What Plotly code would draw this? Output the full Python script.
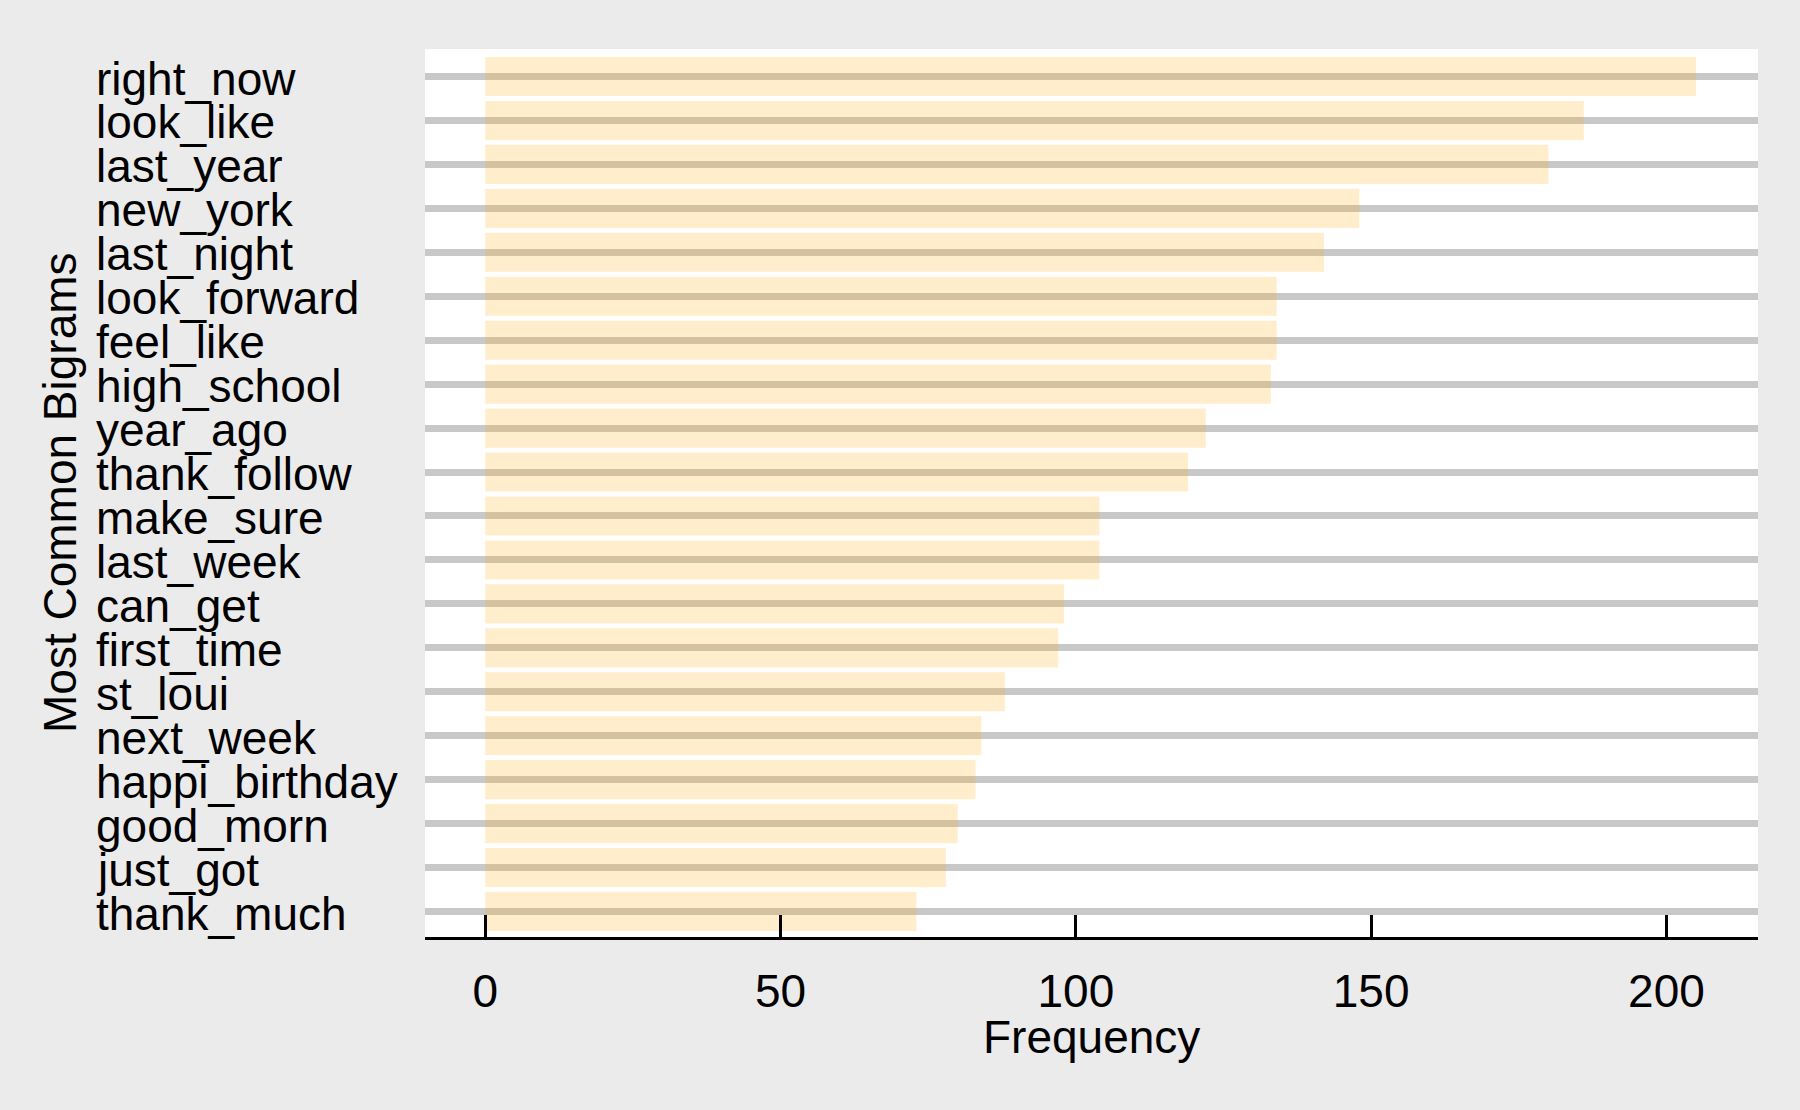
import plotly.graph_objects as go

categories = ["right_now", "look_like", "last_year", "new_york", "last_night",
              "look_forward", "feel_like", "high_school", "year_ago", "thank_follow",
              "make_sure", "last_week", "can_get", "first_time", "st_loui",
              "next_week", "happi_birthday", "good_morn", "just_got", "thank_much"]
frequency = [205, 186, 180, 148, 142, 134, 134, 133, 122, 119,
             104, 104, 98, 97, 88, 84, 83, 80, 78, 73]
x_ticks = [0, 50, 100, 150, 200]

FONT = "Liberation Sans, Arial, sans-serif"
FS = 46

fig = go.Figure()
fig.add_trace(go.Bar(
    x=frequency, y=categories, orientation="h",
    marker=dict(color="rgba(255,165,0,0.2)", line=dict(width=0)),
    showlegend=False,
))

for c in categories:
    fig.add_annotation(x=-0.2485, xref="paper", y=c, yref="y", text=c,
                       showarrow=False, xanchor="left", yanchor="middle", yshift=-2,
                       font=dict(family=FONT, size=FS, color="black"))

fig.add_annotation(x=-0.2738, xref="paper", y=0.5, yref="paper",
                   text="Most Common Bigrams", textangle=-90, showarrow=False,
                   xanchor="center", yanchor="middle",
                   font=dict(family=FONT, size=FS, color="black"))

fig.add_annotation(x=0.5, xref="paper", y=-0.1126, yref="paper",
                   text="Frequency", showarrow=False,
                   xanchor="center", yanchor="middle",
                   font=dict(family=FONT, size=FS, color="black"))

fig.update_layout(
    width=1800, height=1110,
    margin=dict(l=425, r=42, t=49, b=173),
    paper_bgcolor="#ebebeb", plot_bgcolor="white",
    bargap=0.11,
    font=dict(family=FONT, size=FS, color="black"),
)
fig.update_xaxes(
    range=[-10.2, 215.5], tickvals=x_ticks, showgrid=False, zeroline=False,
    showline=True, linecolor="black", linewidth=3,
    ticks="inside", ticklen=22, tickwidth=3, tickcolor="black",
    tickfont=dict(family=FONT, size=FS, color="black"),
    ticklabelstandoff=12,
)
fig.update_yaxes(
    type="category", categoryorder="array", categoryarray=categories,
    range=[19.58, -0.626], showticklabels=False, ticks="",
    showgrid=True, gridcolor="#c8c8c8", gridwidth=7, zeroline=False, showline=False,
)

fig.write_html(
    "out.html",
    config={"displayModeBar": False},
    post_script="document.body.style.margin='0';document.body.style.backgroundColor='#ebebeb';",
)
